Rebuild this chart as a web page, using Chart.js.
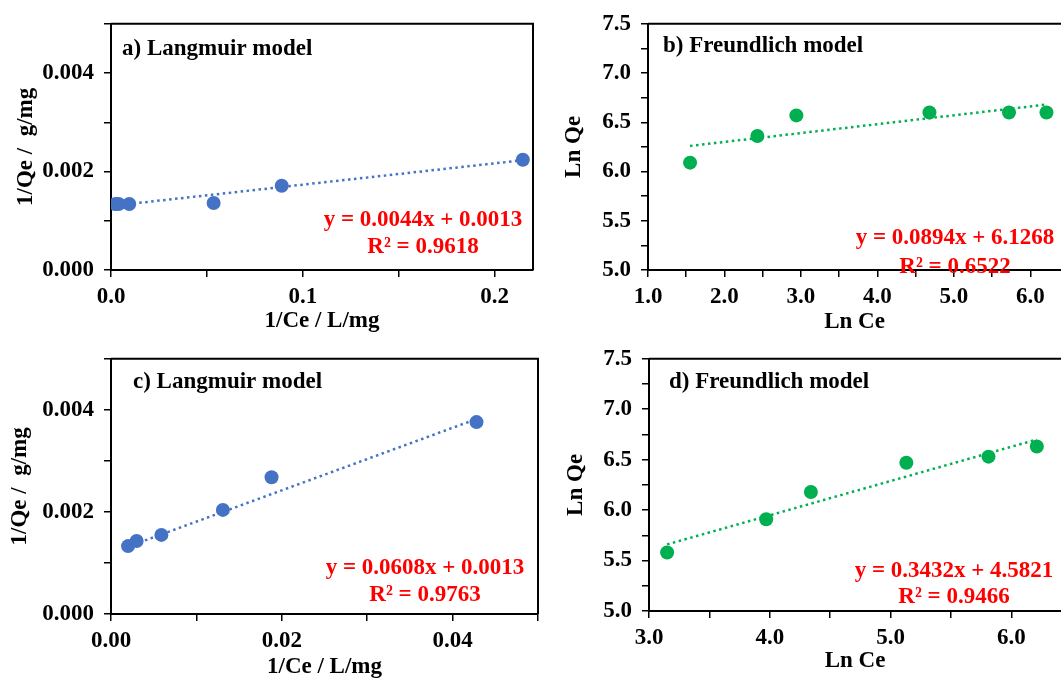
<!DOCTYPE html>
<html>
<head>
    <title>Langmuir and Freundlich isotherms</title>
    <script src="https://cdn.jsdelivr.net/npm/chart.js"></script>
    <style>
        body { margin: 0; background: #fff; overflow: hidden; width: 1061px; height: 679px; position: relative; }
        canvas { position: absolute; }
    </style>
</head>
<body>
<canvas id="chartA" width="540" height="334" style="left:0;top:0"></canvas>
<canvas id="chartB" width="533" height="334" style="left:535px;top:0"></canvas>
<canvas id="chartC" width="545" height="356" style="left:0;top:335px"></canvas>
<canvas id="chartD" width="523" height="356" style="left:545px;top:335px"></canvas>

<script>
    // colours
    const blue = '#4472C4';
    const green = '#00B050';

    // a) Langmuir
    const aX = [0.0023, 0.0040, 0.0095, 0.0535, 0.0890, 0.2147];
    const aY = [0.00134, 0.00134, 0.00134, 0.00136, 0.00171, 0.00224];
    const aTrendX = [0.0023, 0.2147];
    const aTrendY = [0.00131, 0.00223];
    const aXTicks = [0, 0.05, 0.1, 0.15, 0.2];
    const aXLabels = ['0.0', '', '0.1', '', '0.2'];

    // b) Freundlich
    const bX = [1.55, 2.43, 2.94, 4.68, 5.72, 6.21];
    const bY = [6.09, 6.36, 6.57, 6.60, 6.60, 6.60];
    const bTrendX = [1.55, 6.21];
    const bTrendY = [6.26, 6.68];
    const bXTicks = [1, 1.5, 2, 2.5, 3, 3.5, 4, 4.5, 5, 5.5, 6];
    const bXLabels = ['1.0', '', '2.0', '', '3.0', '', '4.0', '', '5.0', '', '6.0'];

    // c) Langmuir
    const cX = [0.0020, 0.0030, 0.0059, 0.0131, 0.0188, 0.0428];
    const cY = [0.00133, 0.00143, 0.00155, 0.00204, 0.00268, 0.00376];
    const cTrendX = [0.0020, 0.0428];
    const cTrendY = [0.00132, 0.00382];
    const cXTicks = [0, 0.01, 0.02, 0.03, 0.04, 0.05];
    const cXLabels = ['0.00', '', '0.02', '', '0.04', ''];

    // d) Freundlich
    const dX = [3.15, 3.97, 4.34, 5.13, 5.81, 6.21];
    const dY = [5.58, 5.91, 6.18, 6.47, 6.53, 6.63];
    const dTrendX = [3.15, 6.21];
    const dTrendY = [5.66, 6.70];
    const dXTicks = [3, 3.5, 4, 4.5, 5, 5.5, 6];
    const dXLabels = ['3.0', '', '4.0', '', '5.0', '', '6.0'];

    // shared y ticks
    const qTicks = [0, 0.001, 0.002, 0.003, 0.004, 0.005];
    const qLabels = ['0.000', '', '0.002', '', '0.004', ''];
    const lnTicks = [5, 5.25, 5.5, 5.75, 6, 6.25, 6.5, 6.75, 7, 7.25, 7.5];
    const lnLabels = ['5.0', '', '5.5', '', '6.0', '', '6.5', '', '7.0', '', '7.5'];

    const fontFamily = '"Liberation Serif", "Times New Roman", serif';
    const noteFont = 'bold 23px ' + fontFamily;

    // box frame + panel label + equation
    const framePlugin = {
        id: 'frame',
        afterDraw(chart, args, opts) {
            const ctx = chart.ctx;
            const a = chart.chartArea;
            ctx.save();
            ctx.strokeStyle = '#000';
            ctx.lineWidth = 2;
            ctx.beginPath();
            ctx.moveTo(a.left, a.top);
            ctx.lineTo(a.right, a.top);
            if (opts.right) ctx.lineTo(a.right, a.bottom);
            ctx.stroke();
            ctx.font = noteFont;
            ctx.textBaseline = 'middle';
            ctx.fillStyle = '#000';
            ctx.textAlign = 'left';
            ctx.fillText(opts.label, a.left + opts.labelDx, a.top + opts.labelDy);
            ctx.fillStyle = '#FF0000';
            ctx.textAlign = 'center';
            opts.eq.forEach((t, i) => ctx.fillText(t, opts.eqX, opts.eqY + i * opts.eqGap));
            ctx.restore();
        }
    };

    function axis(o) {
        return {
            type: 'linear',
            min: o.min,
            max: o.max,
            afterBuildTicks: s => { s.ticks = o.ticks.map(v => ({value: v})); },
            afterFit: s => { if (o.width) s.width = o.width; if (o.height) s.height = o.height; },
            ticks: {
                color: '#000',
                padding: o.tickPad,
                maxRotation: 0,
                autoSkip: false,
                font: {family: fontFamily, size: 23, weight: 'bold'},
                callback: (v, i) => o.labels[i]
            },
            grid: {drawOnChartArea: false, tickLength: 7, color: '#000', lineWidth: 1.5},
            border: {display: true, color: '#000', width: 2},
            title: {
                display: true,
                text: o.title,
                color: '#000',
                padding: o.titlePad,
                font: {family: fontFamily, size: 23, weight: 'bold', lineHeight: 1}
            }
        };
    }

    function makeChart(id, o) {
        return new Chart(document.getElementById(id), {
            type: 'scatter',
            data: {
                datasets: [
                    {
                        data: o.trendX.map((x, i) => ({x: x, y: o.trendY[i]})),
                        showLine: true,
                        borderColor: o.color,
                        borderWidth: 2.5,
                        borderDash: [2.5, 3.5],
                        pointRadius: 0,
                        order: 0
                    },
                    {
                        data: o.x.map((x, i) => ({x: x, y: o.y[i]})),
                        backgroundColor: o.color,
                        borderWidth: 0,
                        pointRadius: 7,
                        order: 1
                    }
                ]
            },
            options: {
                responsive: false,
                animation: false,
                layout: {padding: o.padding},
                plugins: {
                    legend: {display: false},
                    tooltip: {enabled: false},
                    frame: o.frame
                },
                scales: {
                    x: axis(o.xAxis),
                    y: axis(o.yAxis)
                }
            },
            plugins: [framePlugin]
        });
    }

    makeChart('chartA', {
        x: aX, y: aY, trendX: aTrendX, trendY: aTrendY, color: blue,
        padding: {top: 15, right: 7, left: 0, bottom: 0},
        xAxis: {min: 0, max: 0.22, ticks: aXTicks, labels: aXLabels, height: 64, tickPad: 6,
                title: '1/Ce / L/mg', titlePad: {top: 0, bottom: 1}},
        yAxis: {min: 0, max: 0.005, ticks: qTicks, labels: qLabels, width: 111, tickPad: 10,
                title: '1/Qe /  g/mg', titlePad: {top: 15, bottom: 0}},
        frame: {right: true, label: 'a) Langmuir model', labelDx: 11, labelDy: 25,
                eq: ['y = 0.0044x + 0.0013', 'R² = 0.9618'], eqX: 423, eqY: 220, eqGap: 27}
    });

    makeChart('chartB', {
        x: bX, y: bY, trendX: bTrendX, trendY: bTrendY, color: green,
        padding: {top: 17, right: 0, left: 0, bottom: 0},
        xAxis: {min: 1, max: 6.4, ticks: bXTicks, labels: bXLabels, height: 64, tickPad: 6,
                title: 'Ln Ce', titlePad: {top: 0, bottom: 0}},
        yAxis: {min: 5, max: 7.5, ticks: lnTicks, labels: lnLabels, width: 113, tickPad: 10,
                title: 'Ln Qe', titlePad: {top: 28, bottom: 0}},
        frame: {right: false, label: 'b) Freundlich model', labelDx: 15, labelDy: 22,
                eq: ['y = 0.0894x + 6.1268', 'R² = 0.6522'], eqX: 420, eqY: 238, eqGap: 29}
    });

    makeChart('chartC', {
        x: cX, y: cY, trendX: cTrendX, trendY: cTrendY, color: blue,
        padding: {top: 19, right: 6, left: 0, bottom: 0},
        xAxis: {min: 0, max: 0.05, ticks: cXTicks, labels: cXLabels, height: 77, tickPad: 6,
                title: '1/Ce / L/mg', titlePad: {top: 0, bottom: 12}},
        yAxis: {min: 0, max: 0.005, ticks: qTicks, labels: qLabels, width: 111, tickPad: 10,
                title: '1/Qe /  g/mg', titlePad: {top: 9, bottom: 0}},
        frame: {right: true, label: 'c) Langmuir model', labelDx: 22, labelDy: 23,
                eq: ['y = 0.0608x + 0.0013', 'R² = 0.9763'], eqX: 425, eqY: 233, eqGap: 27}
    });

    makeChart('chartD', {
        x: dX, y: dY, trendX: dTrendX, trendY: dTrendY, color: green,
        padding: {top: 19, right: 0, left: 0, bottom: 0},
        xAxis: {min: 3, max: 6.41, ticks: dXTicks, labels: dXLabels, height: 80, tickPad: 6,
                title: 'Ln Ce', titlePad: {top: 0, bottom: 18}},
        yAxis: {min: 5, max: 7.5, ticks: lnTicks, labels: lnLabels, width: 104, tickPad: 10,
                title: 'Ln Qe', titlePad: {top: 20, bottom: 0}},
        frame: {right: false, label: 'd) Freundlich model', labelDx: 20, labelDy: 23,
                eq: ['y = 0.3432x + 4.5821', 'R² = 0.9466'], eqX: 409, eqY: 236, eqGap: 26}
    });
</script>
</body>
</html>
